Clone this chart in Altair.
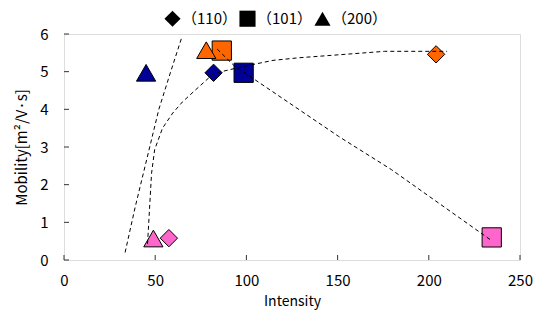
import altair as alt
import pandas as pd

# Points
orient_labels = ["（110）", "（110）", "（110）", "（101）", "（101）", "（101）", "（200）", "（200）", "（200）"]
groups = ["blue", "orange", "pink", "blue", "orange", "pink", "blue", "orange", "pink"]
intensity = [82, 204, 57.5, 98.5, 86.5, 234.5, 45, 78, 49]
mobility = [4.97, 5.46, 0.58, 4.97, 5.56, 0.6, 4.97, 5.57, 0.57]

# Dashed trend lines
l1_x = [33.5, 39, 45, 52, 58.5, 64.5]
l1_y = [0.2, 1.4, 2.6, 4.0, 5.0, 5.9]
l2_x = [45.8, 48, 49.7, 54, 59.6, 65, 74, 82, 96.6, 114.6, 129, 154, 175.8, 210]
l2_y = [0.43, 2.3, 2.93, 3.5, 3.9, 4.2, 4.6, 4.95, 5.12, 5.3, 5.37, 5.46, 5.54, 5.54]
l3_x = [84, 93, 150.6, 179.5, 234]
l3_y = [5.6, 5.17, 3.28, 2.4, 0.53]

x_ticks = [0, 50, 100, 150, 200, 250]
y_ticks = [0, 1, 2, 3, 4, 5, 6]

SERIES = ["（110）", "（101）", "（200）"]
FONT = "Noto Sans CJK JP"
W, H = 456, 226

pts = pd.DataFrame({"series": orient_labels, "grp": groups, "x": intensity, "y": mobility})

rows = []
for name, xs, ys in [("a", l1_x, l1_y), ("b", l2_x, l2_y), ("c", l3_x, l3_y)]:
    for i, (a, b) in enumerate(zip(xs, ys)):
        rows.append({"line": name, "i": i, "x": a, "y": b})
lines = pd.DataFrame(rows)

xs = alt.Scale(domain=[0, 250], nice=False)
ys = alt.Scale(domain=[0, 6], nice=False)

x_axis = alt.Axis(values=x_ticks, tickSize=0, grid=False, labelPadding=13, labelFontSize=15,
                  labelFont=FONT, labelColor="black", title="Intensity", titleFont=FONT,
                  titleFontSize=14, titleFontWeight="normal", titleColor="black", titlePadding=6,
                  domain=False, labelOverlap=False, labelFlush=False)
y_axis = alt.Axis(values=y_ticks, tickSize=0, grid=False, labelPadding=16, labelFontSize=15,
                  labelFont=FONT, labelColor="black", title="Mobility[m²/V·s]", titleFont=FONT,
                  titleFontSize=15, titleFontWeight="normal", titleColor="black", titlePadding=10,
                  domain=False, labelOverlap=False, labelFlush=False)

shape_enc = alt.Shape("series:N",
                      scale=alt.Scale(domain=SERIES, range=["diamond", "square", "triangle-up"]),
                      legend=alt.Legend(title=None, orient="none", direction="horizontal",
                                        legendX=100, legendY=-24, labelFont=FONT, labelFontSize=15,
                                        labelColor="black", symbolSize=260, symbolFillColor="black",
                                        symbolStrokeColor="black", symbolStrokeWidth=0,
                                        columnPadding=2, labelOffset=1, symbolOpacity=1))
fill_enc = alt.Fill("grp:N",
                    scale=alt.Scale(domain=["blue", "orange", "pink"],
                                    range=["#000099", "#FF6600", "#FF66CC"]),
                    legend=None)

base = alt.Chart(pts).encode(
    x=alt.X("x:Q", scale=xs, axis=x_axis),
    y=alt.Y("y:Q", scale=ys, axis=y_axis),
    shape=shape_enc,
    fill=fill_enc,
)
big = base.transform_filter(alt.datum.series != "（110）").mark_point(
    filled=True, stroke="black", strokeWidth=1, opacity=1, size=370)
small = base.transform_filter(alt.datum.series == "（110）").mark_point(
    filled=True, stroke="black", strokeWidth=1, opacity=1, size=300)

dash = alt.Chart(lines).mark_line(color="black", strokeWidth=1, strokeDash=[4, 3]).encode(
    x=alt.X("x:Q", scale=xs, axis=x_axis),
    y=alt.Y("y:Q", scale=ys, axis=y_axis),
    detail="line:N",
    order="i:Q",
)

xt = alt.Chart(pd.DataFrame({"t": x_ticks})).mark_rule(color="#333", strokeWidth=1).encode(
    x=alt.X("t:Q", scale=xs, axis=x_axis), y=alt.value(H), y2=alt.value(H - 5))
yt = alt.Chart(pd.DataFrame({"t": y_ticks})).mark_rule(color="#333", strokeWidth=1).encode(
    y=alt.Y("t:Q", scale=ys, axis=y_axis), x=alt.value(0), x2=alt.value(5))

chart = alt.layer(big, small, xt, yt, dash).properties(
    width=W, height=H, padding={"left": 6, "top": 2, "right": 0, "bottom": 5}
).configure_view(stroke="#333", strokeWidth=1.5).configure(background="white")

chart.save("out.html", embed_options={"renderer": "svg", "actions": False})
